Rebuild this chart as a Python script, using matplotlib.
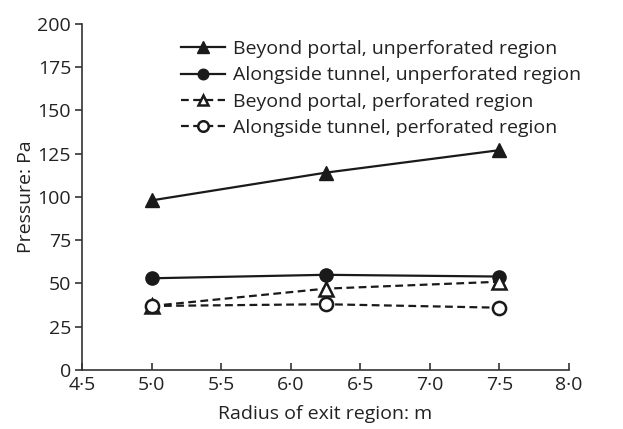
import matplotlib
matplotlib.use("Agg")
import matplotlib.pyplot as plt
from matplotlib.ticker import FixedLocator, FuncFormatter

plt.rcParams['font.family'] = ['Open Sans', 'DejaVu Sans']

radius = [5.0, 6.25, 7.5]
beyond_unperf = [98, 114, 127]
along_unperf = [53, 55, 54]
beyond_perf = [37, 47, 51]
along_perf = [37, 38, 36]
labels = ["Beyond portal, unperforated region",
          "Alongside tunnel, unperforated region",
          "Beyond portal, perforated region",
          "Alongside tunnel, perforated region"]
xticks = [4.5, 5.0, 5.5, 6.0, 6.5, 7.0, 7.5, 8.0]
yticks = [0, 25, 50, 75, 100, 125, 150, 175, 200]

fig = plt.figure(figsize=(6.23, 4.29), dpi=100)
ax = fig.add_axes([0.132, 0.1375, 0.781, 0.807])

c = '#1a1a1a'
ax.plot(radius, beyond_unperf, '-', color=c, lw=1.6, marker='^', ms=10, mfc=c, mec=c, label=labels[0])
ax.plot(radius, along_unperf, '-', color=c, lw=1.6, marker='o', ms=9.5, mfc=c, mec=c, label=labels[1])
ax.plot(radius, beyond_perf, '--', color=c, lw=1.6, marker='^', ms=9.5, mfc='white', mec=c, mew=1.8, label=labels[2], dashes=(3.5, 2))
ax.plot(radius, along_perf, '--', color=c, lw=1.6, marker='o', ms=9.5, mfc='white', mec=c, mew=1.8, label=labels[3], dashes=(3.5, 2))

ax.set_xlim(4.5, 8.0)
ax.set_ylim(0, 200)
ax.xaxis.set_major_locator(FixedLocator(xticks))
ax.yaxis.set_major_locator(FixedLocator(yticks))
ax.xaxis.set_major_formatter(FuncFormatter(lambda v, p: f"{v:.1f}".replace('.', '\u00b7')))
ax.yaxis.set_major_formatter(FuncFormatter(lambda v, p: f"{int(v)}"))

for s in ['top', 'right']:
    ax.spines[s].set_visible(False)
for s in ['left', 'bottom']:
    ax.spines[s].set_color('#333333')
    ax.spines[s].set_linewidth(1.2)

ax.tick_params(axis='x', direction='in', length=5, width=1.2, color='#333333', labelsize=14, pad=4, labelcolor='#222222')
ax.tick_params(axis='y', direction='out', length=5, width=1.2, color='#333333', labelsize=14, pad=3, labelcolor='#222222')

ax.set_xlabel("Radius of exit region: m", fontsize=14, color='#222222', labelpad=8)
ax.set_ylabel("Pressure: Pa", fontsize=14, color='#222222', labelpad=2)

leg = ax.legend(loc='upper left', bbox_to_anchor=(0.186, 0.975), frameon=False, fontsize=14,
                handlelength=2.3, handletextpad=0.4, labelspacing=0.42, borderaxespad=0,
                markerscale=0.8)
for t in leg.get_texts():
    t.set_color('#222222')

fig.savefig("out.png", dpi=100)
